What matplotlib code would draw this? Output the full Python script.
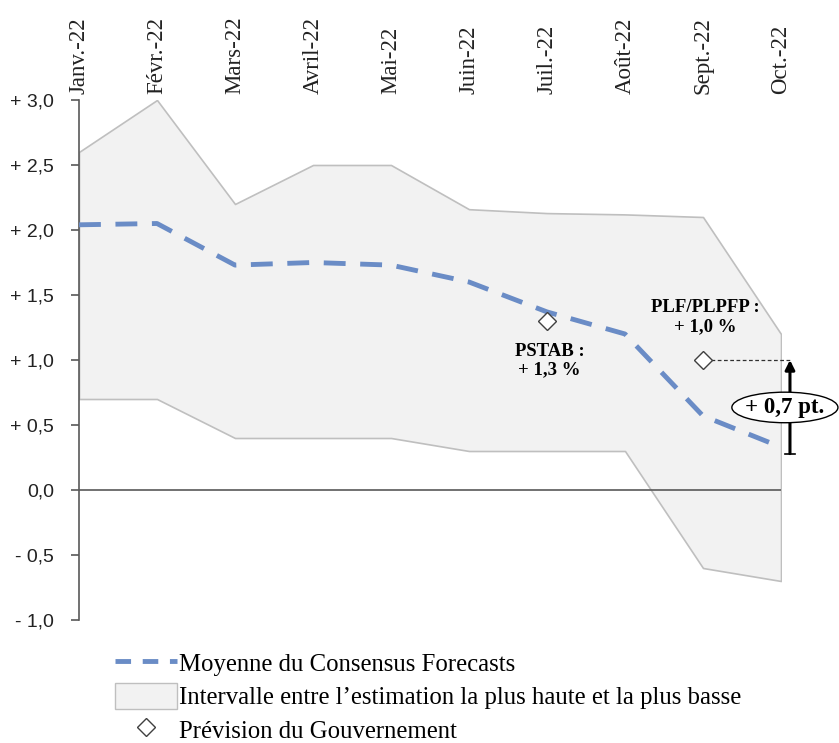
import matplotlib
matplotlib.use("Agg")
import matplotlib.pyplot as plt
from matplotlib.lines import Line2D
from matplotlib.patches import Patch, Ellipse

months = ["Janv.-22", "Févr.-22", "Mars-22", "Avril-22", "Mai-22", "Juin-22",
          "Juil.-22", "Août-22", "Sept.-22", "Oct.-22"]
upper = [2.6, 3.0, 2.2, 2.5, 2.5, 2.16, 2.13, 2.12, 2.1, 1.2]
lower = [0.7, 0.7, 0.4, 0.4, 0.4, 0.3, 0.3, 0.3, -0.6, -0.7]
mean = [2.04, 2.05, 1.73, 1.75, 1.73, 1.6, 1.37, 1.2, 0.57, 0.33]
gov_idx = [6, 8]
gov_val = [1.3, 1.0]
gov_labels = ["PSTAB :\n+ 1,3 %", "PLF/PLPFP :\n+ 1,0 %"]
yticks = [-1.0, -0.5, 0.0, 0.5, 1.0, 1.5, 2.0, 2.5, 3.0]
ytick_labels = ["- 1,0", "- 0,5", "0,0", "+ 0,5", "+ 1,0", "+ 1,5", "+ 2,0", "+ 2,5", "+ 3,0"]
gap_label = "+ 0,7 pt."

SERIF = ["Liberation Serif", "DejaVu Serif"]
SANS = ["Liberation Sans", "DejaVu Sans"]

fig = plt.figure(figsize=(8.39, 7.43), dpi=100)
ax = fig.add_axes([79/839, 1 - 620/743, 702/839, 520/743])
x = list(range(len(months)))

ax.fill_between(x, lower, upper, facecolor="#F2F2F2", edgecolor="#BFBFBF", linewidth=1.2,
                zorder=1)
ax.plot(x, mean, color="#6A8CC6", linewidth=3.5, dashes=(4.5, 3.0), zorder=3,
        solid_capstyle="butt", dash_capstyle="butt")
ax.axhline(0, color="#595959", linewidth=1.2, xmin=0, xmax=1, zorder=2)

ax.plot(gov_idx, gov_val, linestyle="none", marker="D",
        markersize=9, markerfacecolor="white", markeredgecolor="#404040",
        markeredgewidth=1.0, zorder=5)

# labels for government forecasts
ax.text(gov_idx[0] + 0.03, 0.995, gov_labels[0], ha="center", va="center",
        fontsize=13.5, fontweight="bold", family=SERIF, linespacing=1.1, zorder=6)
ax.text(gov_idx[1] + 0.03, 1.33, gov_labels[1], ha="center", va="center",
        fontsize=13.5, fontweight="bold", family=SERIF, linespacing=1.1, zorder=6)

# gap annotation
xa = 9.115
ax.plot([gov_idx[1] + 0.1, xa], [gov_val[1], gov_val[1]], color="#303030", linewidth=0.9,
        linestyle=(0, (3, 2)), clip_on=False, zorder=4)
ax.annotate("", xy=(xa, gov_val[1]), xytext=(xa, mean[-1] - 0.05),
            arrowprops=dict(arrowstyle="-|>", color="black", lw=2.2, mutation_scale=14,
                            shrinkA=0, shrinkB=0),
            annotation_clip=False, zorder=6)
ax.plot([xa - 0.06, xa + 0.06], [mean[-1] - 0.05, mean[-1] - 0.05], color="black",
        linewidth=1.2, clip_on=False, zorder=6)
ell = Ellipse((9.05, 0.635), width=1.36, height=0.235, facecolor="white",
              edgecolor="black", linewidth=1.0, clip_on=False, zorder=7)
ax.add_patch(ell)
ax.text(9.05, 0.635, gap_label, ha="center", va="center", fontsize=16.5, fontweight="bold",
        family=SERIF, zorder=8, clip_on=False)

ax.set_xlim(0, 9)
ax.set_ylim(-1.0, 3.0)
ax.set_yticks(yticks)
ax.set_yticklabels(ytick_labels, family=SANS, fontsize=14, color="#222222")
ax.tick_params(axis="y", direction="out", length=6, width=1.2, color="#595959", pad=12)
ax.xaxis.tick_top()
ax.set_xticks(x)
ax.set_xticklabels(months, rotation=90, family=SERIF, fontsize=16.5, color="#222222")
ax.tick_params(axis="x", length=0, pad=4)
for s in ["top", "right", "bottom"]:
    ax.spines[s].set_visible(False)
ax.spines["left"].set_color("#595959")
ax.spines["left"].set_linewidth(1.2)
ax.set_facecolor("none")

handles = [
    Line2D([0], [0], color="#6A8CC6", linewidth=3.5, dashes=(3.2, 2.4)),
    Patch(facecolor="#F2F2F2", edgecolor="#BFBFBF", linewidth=1.0),
    Line2D([0], [0], linestyle="none", marker="D", markersize=9, markerfacecolor="white",
           markeredgecolor="#404040", markeredgewidth=1.0),
]
labels = ["Moyenne du Consensus Forecasts",
          "Intervalle entre l\u2019estimation la plus haute et la plus basse",
          "Prévision du Gouvernement"]
leg = fig.legend(handles, labels, loc="upper left", bbox_to_anchor=(115/839, 1 - 650/743),
                 frameon=False, prop={"family": SERIF, "size": 17.8}, handlelength=2.5,
                 handleheight=1.25, handletextpad=0.1, labelspacing=0.27, borderpad=0,
                 borderaxespad=0)

fig.savefig("out.png", dpi=100)
